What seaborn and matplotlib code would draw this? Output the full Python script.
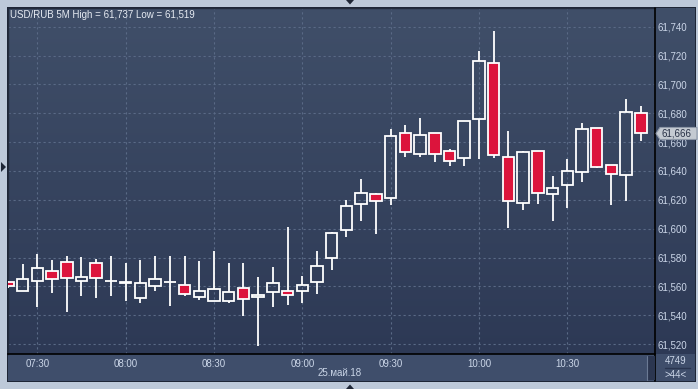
import numpy as np
import matplotlib
matplotlib.use("Agg")
import matplotlib.pyplot as plt
import seaborn as sns
from matplotlib.patches import Rectangle, Polygon
from matplotlib.lines import Line2D

# ---------------- data ----------------
times = ["07:20", "07:25", "07:30", "07:35", "07:40", "07:45", "07:50", "07:55",
         "08:00", "08:05", "08:10", "08:15", "08:20", "08:25", "08:30", "08:35",
         "08:40", "08:45", "08:50", "08:55", "09:00", "09:05", "09:10", "09:15",
         "09:20", "09:25", "09:30", "09:35", "09:40", "09:45", "09:50", "09:55",
         "10:00", "10:05", "10:10", "10:15", "10:20", "10:25", "10:30", "10:35",
         "10:40", "10:45", "10:50", "10:55"]
opens = [61.563, 61.557, 61.564, 61.571, 61.577, 61.564, 61.576, 61.564,
         61.562, 61.552, 61.560, 61.563, 61.561, 61.5525, 61.550, 61.550,
         61.559, 61.5525, 61.556, 61.557, 61.557, 61.563, 61.580, 61.599,
         61.617, 61.624, 61.621, 61.666, 61.652, 61.666, 61.654, 61.649,
         61.676, 61.715, 61.650, 61.618, 61.654, 61.624, 61.630, 61.639,
         61.670, 61.644, 61.637, 61.680]
closes = [61.560, 61.565, 61.573, 61.565, 61.566, 61.5665, 61.566, 61.564,
          61.563, 61.562, 61.565, 61.563, 61.555, 61.557, 61.558, 61.556,
          61.551, 61.554, 61.562, 61.554, 61.561, 61.574, 61.597, 61.616,
          61.625, 61.619, 61.664, 61.653, 61.665, 61.652, 61.647, 61.675,
          61.716, 61.651, 61.619, 61.653, 61.625, 61.628, 61.640, 61.669,
          61.643, 61.638, 61.681, 61.666]
highs = [61.564, 61.5755, 61.5825, 61.578, 61.581, 61.5805, 61.579, 61.581,
         61.576, 61.578, 61.581, 61.581, 61.581, 61.5775, 61.5845, 61.576,
         61.576, 61.5665, 61.5735, 61.601, 61.567, 61.5845, 61.598, 61.620,
         61.6345, 61.625, 61.669, 61.672, 61.677, 61.666, 61.655, 61.675,
         61.723, 61.737, 61.668, 61.654, 61.654, 61.6365, 61.648, 61.6735,
         61.670, 61.644, 61.690, 61.685]
lows = [61.559, 61.557, 61.546, 61.5555, 61.542, 61.553, 61.552, 61.5535,
        61.550, 61.5485, 61.557, 61.5465, 61.5535, 61.5505, 61.550, 61.5485,
        61.5395, 61.519, 61.546, 61.547, 61.5485, 61.555, 61.5715, 61.5945,
        61.6055, 61.596, 61.6165, 61.650, 61.650, 61.6465, 61.6435, 61.6435,
        61.648, 61.649, 61.6005, 61.613, 61.617, 61.605, 61.6145, 61.6325,
        61.642, 61.6165, 61.6195, 61.661]
ytick_values = [61.52, 61.54, 61.56, 61.58, 61.60, 61.62, 61.64, 61.66,
                61.68, 61.70, 61.72, 61.74]
xtick_labels = ["07:30", "08:00", "08:30", "09:00", "09:30", "10:00", "10:30"]
title_text = "USD/RUB 5M High = 61,737 Low = 61,519"
date_text = "25.май.18"
last_price = 61.666
count_text = "4749"
bars_text = ">44<"

# ---------------- style ----------------
sns.set_theme(style="dark")
plt.rcParams["font.family"] = ["Liberation Sans", "DejaVu Sans"]

W, H = 698, 389
fig = plt.figure(figsize=(W / 100, H / 100), dpi=100)
fig.patch.set_facecolor("#BDC9D9")

def fx(px):
    return px / W

def fy(py):
    return 1 - py / H

# frame pieces (figure pixel coords)
L, T, R, PB, BB, RA = 8, 8, 695, 354.3, 380.5, 655.3
fig.add_artist(Rectangle((fx(L - 1), fy(BB + 1)), fx(R - L + 2), (BB - T + 2) / H,
                         transform=fig.transFigure, facecolor="#1E2636",
                         edgecolor="none", zorder=0))
fig.add_artist(Rectangle((fx(L), fy(BB)), fx(R - L), (BB - PB) / H,
                         transform=fig.transFigure, facecolor="#3F4E6B",
                         edgecolor="none", zorder=0.5))

# gradient background for plot + right axis area
bg = fig.add_axes([fx(L), fy(PB), fx(R - L), (PB - T) / H], zorder=0.6)
grad = np.linspace(0, 1, 256).reshape(-1, 1)
top_c = np.array([0x40, 0x4F, 0x69]) / 255
bot_c = np.array([0x2D, 0x39, 0x55]) / 255
img = top_c[None, None, :] * (1 - grad[:, :, None]) + bot_c[None, None, :] * grad[:, :, None]
bg.imshow(img, aspect="auto", extent=[0, 1, 0, 1], origin="upper")
bg.set_axis_off()

# main axes
ax = fig.add_axes([fx(L), fy(PB), fx(RA - L), (PB - T) / H], zorder=1)
ax.set_facecolor("none")

xs = np.array([int(t[:2]) * 60 + int(t[3:]) - 420 for t in times], dtype=float)
o = np.array(opens); c = np.array(closes)
h = np.array(highs); lo = np.array(lows)
top = np.maximum(o, c); bot = np.minimum(o, c)
up = c >= o

ax.vlines(xs, top, h, color="white", linewidth=1.3, zorder=3)
ax.vlines(xs, lo, bot, color="white", linewidth=1.3, zorder=3)
bw = 3.9
ax.bar(xs[up], (top - bot)[up], bottom=bot[up], width=bw, facecolor="none",
       edgecolor="white", linewidth=1.3, zorder=4)
ax.bar(xs[~up], (top - bot)[~up], bottom=bot[~up], width=bw, facecolor="#DC143C",
       edgecolor="white", linewidth=1.3, zorder=4)

ax.set_xlim(20.04, 239.9)
ax.set_ylim(61.5129, 61.753)

xt = [int(t[:2]) * 60 + int(t[3:]) - 420 for t in xtick_labels]
ax.set_xticks(xt)
ax.set_xticklabels(xtick_labels)
ax.set_yticks(ytick_values)
ax.set_yticklabels([f"{v:.3f}".replace(".", ",") for v in ytick_values])
ax.yaxis.tick_right()
ax.tick_params(axis="both", length=0, labelsize=7, labelcolor="#CBD6E8")
ax.tick_params(axis="x", pad=3.2)
ax.tick_params(axis="y", pad=1.5)
ax.grid(True, color="#5A6A86", linestyle=(0, (2, 2.5)), linewidth=0.8)
for s in ["top", "left"]:
    ax.spines[s].set_color("#222B3C")
    ax.spines[s].set_linewidth(1)
ax.spines["bottom"].set_color("#000000")
ax.spines["bottom"].set_linewidth(1.2)
ax.spines["right"].set_visible(False)

# right axis separator line (through bottom bar)
fig.add_artist(Line2D([fx(RA), fx(RA)], [fy(T), fy(BB)], transform=fig.transFigure,
                      color="black", linewidth=1.2, zorder=5))

# title
fig.text(fx(10), fy(15.5), title_text, color="#E6EBF2", fontsize=7,
         ha="left", va="center", zorder=6)
# date label
fig.text(fx(340), fy(373.5), date_text, color="#CBD6E8", fontsize=7,
         ha="center", va="center", zorder=6)

# bottom-right info box
fig.text(fx(676), fy(361.5), count_text, color="#CBD6E8", fontsize=7,
         ha="center", va="center", zorder=6)
fig.add_artist(Line2D([fx(665), fx(690)], [fy(368), fy(368)], transform=fig.transFigure,
                      color="#2A3550", linewidth=1, zorder=6))
fig.text(fx(676), fy(374.5), bars_text, color="#CBD6E8", fontsize=7,
         ha="center", va="center", zorder=6)

# small scroller in bottom bar
fig.add_artist(Rectangle((fx(646.5), fy(380)), fx(8), 24 / H, transform=fig.transFigure,
                         facecolor="#2B3650", edgecolor="none", zorder=5))
fig.add_artist(Line2D([fx(646.8), fx(646.8)], [fy(356), fy(380)], transform=fig.transFigure,
                      color="#6B7A94", linewidth=0.8, zorder=5))

# current price marker
py = T + (61.753 - last_price) / (61.753 - 61.5129) * (PB - T)
poly = [(fx(656), fy(py)), (fx(660), fy(py - 6)), (fx(697), fy(py - 6)),
        (fx(697), fy(py + 6)), (fx(660), fy(py + 6))]
fig.add_artist(Polygon(poly, closed=True, transform=fig.transFigure,
                       facecolor="#C4CAD2", edgecolor="#8E98A8", linewidth=0.8, zorder=7))
fig.text(fx(661), fy(py), f"{last_price:.3f}".replace(".", ","), color="#273045",
         fontsize=7, ha="left", va="center", zorder=8)

# small triangles on the outer frame
fig.add_artist(Polygon([(fx(346), fy(0)), (fx(354), fy(0)), (fx(350), fy(4.5))],
                       transform=fig.transFigure, facecolor="#1E2636", edgecolor="none", zorder=8))
fig.add_artist(Polygon([(fx(346), fy(389)), (fx(354), fy(389)), (fx(350), fy(384.5))],
                       transform=fig.transFigure, facecolor="#1E2636", edgecolor="none", zorder=8))
fig.add_artist(Polygon([(fx(1), fy(162)), (fx(1), fy(172)), (fx(6), fy(167))],
                       transform=fig.transFigure, facecolor="#1E2636", edgecolor="none", zorder=8))

fig.savefig("out.png", dpi=100, facecolor=fig.get_facecolor())
